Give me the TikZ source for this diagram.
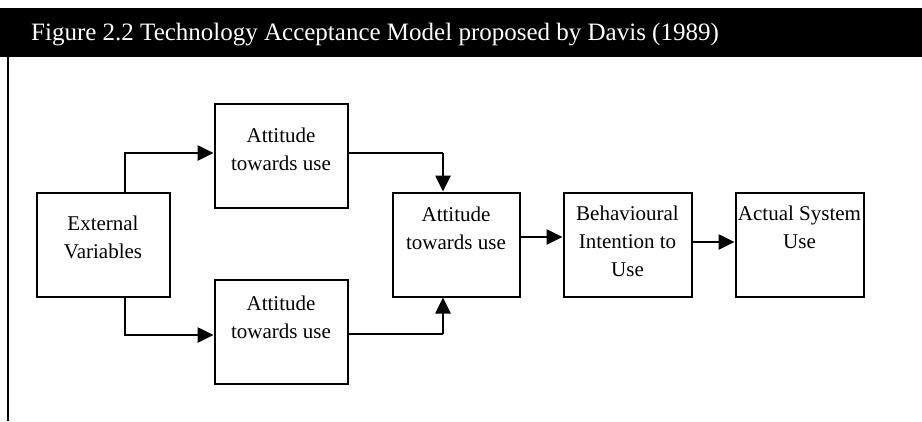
\documentclass[tikz,border=0pt]{standalone}
\usepackage{fontspec}
\setmainfont{Liberation Serif}
\usetikzlibrary{arrows.meta}

\begin{document}
\begin{tikzpicture}[x=1pt,y=-1pt,
  box/.style={draw=black, line width=2pt, fill=white, inner sep=0pt,
    minimum width=#1, minimum height=104pt},
  box/.default=133pt,
  boxtext/.style={anchor=north, inner sep=0pt, align=center,
    font=\fontsize{21}{28}\selectfont},
  arr/.style={line width=2.6pt, -{Triangle[length=16pt,width=15pt]}},
  link/.style={line width=2pt},
  frameline/.style={line width=2pt}
]
\useasboundingbox (0,0) rectangle (922,421);

% title bar and left rule
\fill[black] (0,8) rectangle (922,57);
\node[anchor=base west, inner sep=0pt, text=white,
  font=\fontsize{25}{30}\selectfont] (title) at (31,40)
  {Figure 2.2 Technology Acceptance Model proposed by Davis (1989)};
\draw[frameline] (7.5,57) -- (7.5,421);

% boxes
\node[box] (ext) at (103,244.5) {};
\node[box] (att1) at (281,155.5) {};
\node[box] (att2) at (281,331.5) {};
\node[box=127pt] (mid) at (456,244.5) {};
\node[box=128pt] (beh) at (627.5,244.5) {};
\node[box=128pt] (act) at (799.5,244.5) {};

% box labels
\node[boxtext] (extT) at ([yshift=-24pt]ext.north) {External\\Variables};
\node[boxtext] (att1T) at ([yshift=-25pt]att1.north) {Attitude\\towards use};
\node[boxtext] (att2T) at ([yshift=-17pt]att2.north) {Attitude\\towards use};
\node[boxtext] (midT) at ([yshift=-15pt]mid.north) {Attitude\\towards use};
\node[boxtext] (behT) at ([yshift=-14pt]beh.north) {Behavioural\\Intention to\\Use};
\node[boxtext] (actT) at ([yshift=-14pt]act.north) {Actual System\\Use};

% bend points of the connectors
\coordinate (ct) at (125,153);
\coordinate (cb) at (125,335);
\coordinate (jt) at (443,153);
\coordinate (jb) at (443,334);
\coordinate (r1) at (0,237);
\coordinate (r2) at (0,242);

% external variables to the two attitude boxes
\draw[arr] (ext.north -| ct) -- (ct) -- (att1.west |- ct);
\draw[arr] (ext.south -| cb) -- (cb) -- (att2.west |- cb);

% attitude boxes into the central attitude box
\draw[link] (att1.east |- jt) -- (jt);
\draw[arr] (jt) -- (mid.north -| jt);
\draw[link] (att2.east |- jb) -- (jb);
\draw[arr] (jb) -- (mid.south -| jb);

% chain to intention and actual use
\draw[arr] (mid.east |- r1) -- (beh.west |- r1);
\draw[arr] (beh.east |- r2) -- (act.west |- r2);
\end{tikzpicture}
\end{document}
